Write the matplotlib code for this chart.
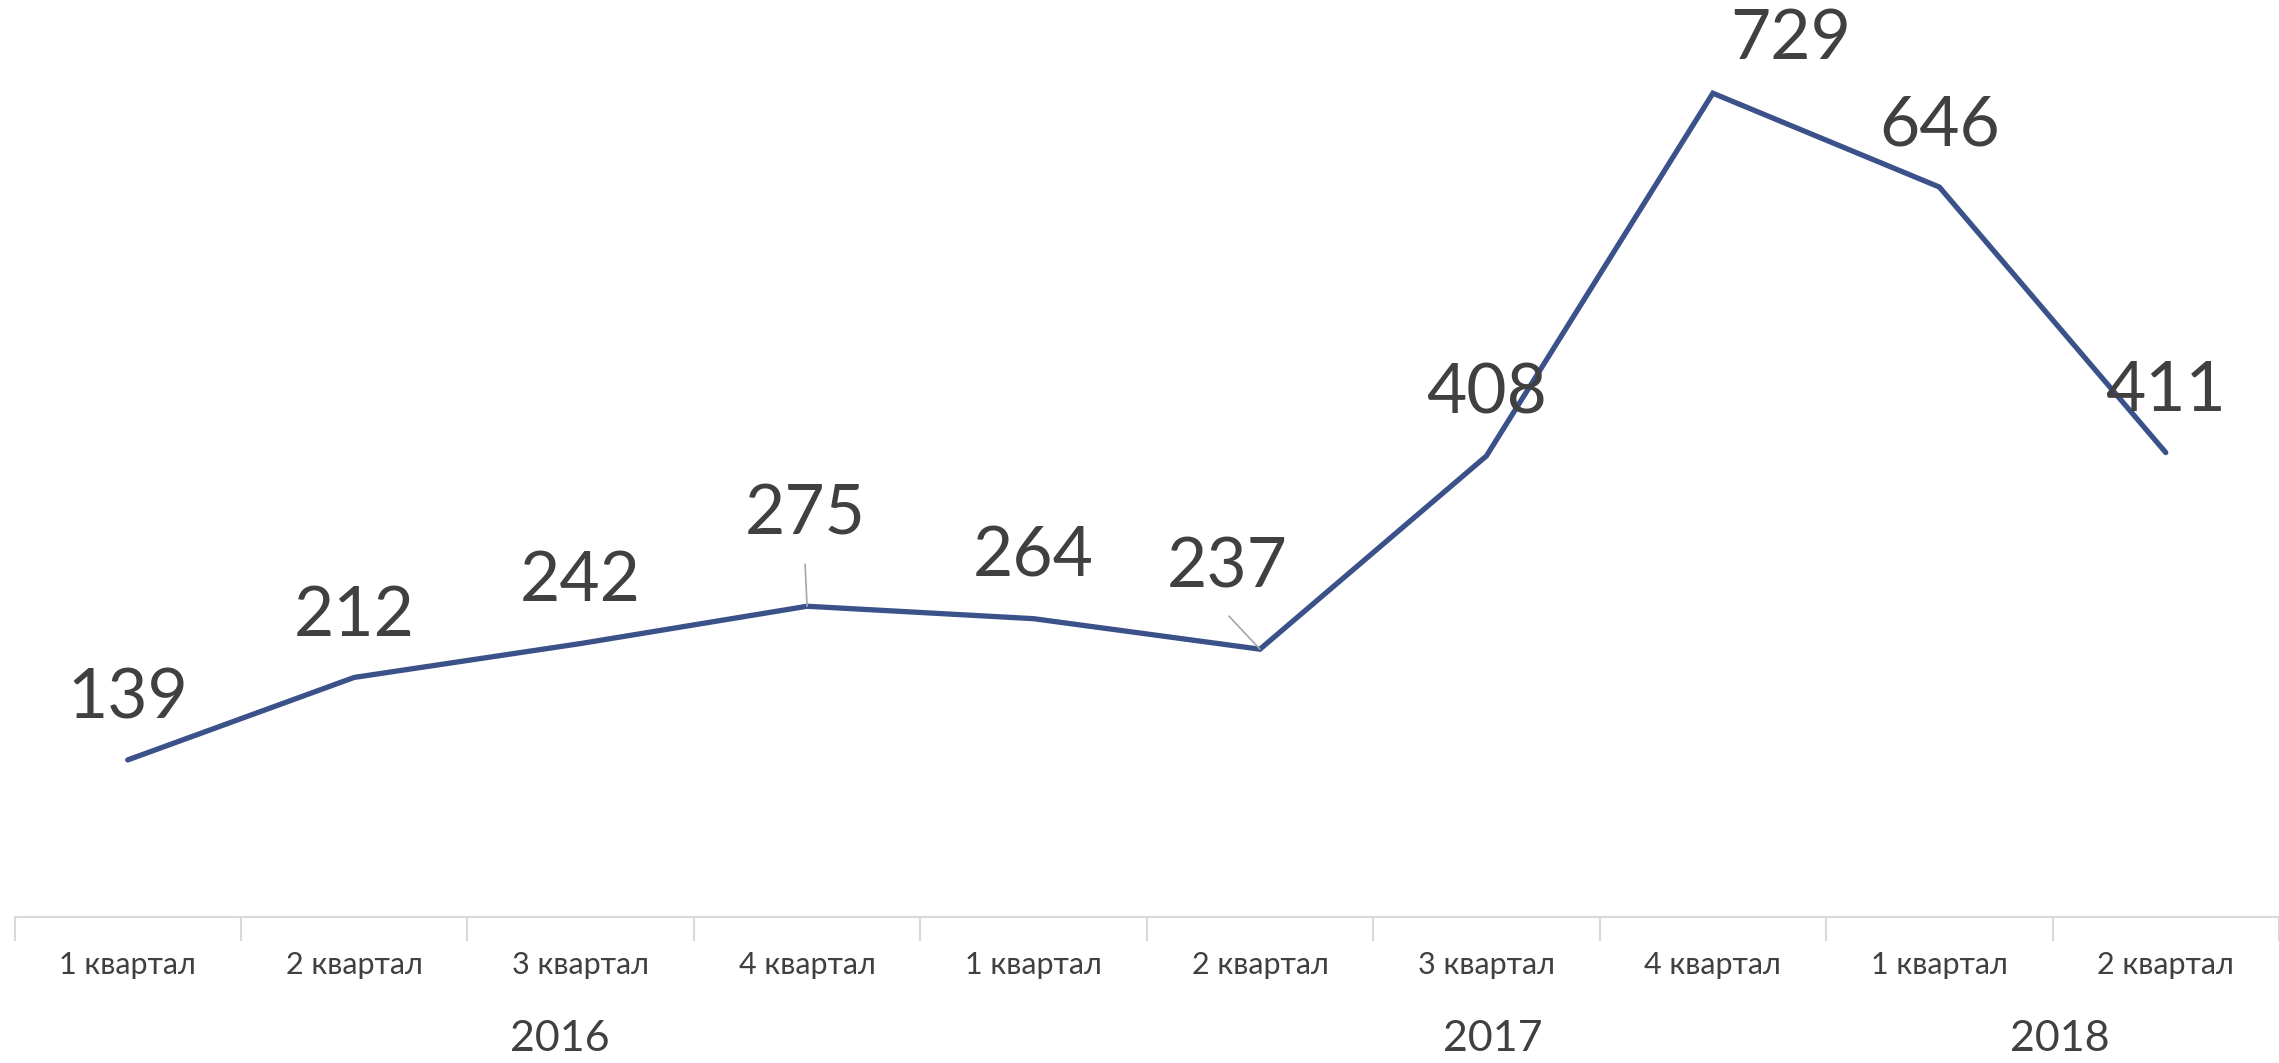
import numpy as np
import matplotlib
matplotlib.use('Agg')
import matplotlib.pyplot as plt

plt.rcParams['font.family'] = ['Lato', 'DejaVu Sans']

# data
quarters = ['1 квартал', '2 квартал', '3 квартал', '4 квартал', '1 квартал',
            '2 квартал', '3 квартал', '4 квартал', '1 квартал', '2 квартал']
values = [139, 212, 242, 275, 264, 237, 408, 729, 646, 411]
years = ['2016', '2017', '2018']
year_pos = [1.91, 6.03, 8.53]

# label offsets in pixels (dx, dy); leader line start offsets (None = no leader)
label_off = [(0, 61), (0, 61), (0, 62), (-2, 91), (0, 62),
             (-33, 81), (0, 62), (78, 54), (0, 61), (0, 61)]
leader_off = [None, None, None, (-2, 42), None, (-31, 33), None, None, None, None]

line_col = '#3b5189'
text_col = '#404040'

fig = plt.figure(figsize=(22.79, 10.63), dpi=100)
ax = fig.add_axes([14.5/2279, 1 - 917/1063, 1 - 14.5/2279, 917/1063])

x = np.arange(len(values))
ax.plot(x, values, color=line_col, lw=3.8, solid_capstyle='round', solid_joinstyle='miter', zorder=3)

for i, v in enumerate(values):
    dx, dy = label_off[i]
    ax.annotate(str(v), (x[i], v), xytext=(dx, dy), textcoords='offset pixels',
                ha='center', va='center', fontsize=50, color=text_col, zorder=4)
    if leader_off[i] is not None:
        ax.annotate('', (x[i], v), xytext=leader_off[i], textcoords='offset pixels',
                    arrowprops=dict(arrowstyle='-', color='#a6a6a6', lw=1.2, shrinkA=0, shrinkB=0))

ax.set_xlim(-0.5, -0.5 + 2264.5 / 228)
ax.set_ylim(0, 917 / 1.130)

for s in ['top', 'right', 'left']:
    ax.spines[s].set_visible(False)
ax.spines['bottom'].set_color('#d9d9d9')
ax.spines['bottom'].set_linewidth(1.5)
ax.set_yticks([])

ax.set_xticks(np.arange(len(values) + 1) - 0.5)
ax.set_xticklabels([])
ax.tick_params(axis='x', length=17, width=1.5, color='#d9d9d9')

trans = ax.get_xaxis_transform()
for i, q in enumerate(quarters):
    ax.text(x[i], -48 / 917, q, transform=trans, ha='center', va='center',
            fontsize=22, color=text_col, clip_on=False)
for y, p in zip(years, year_pos):
    ax.text(p, -122 / 917, y, transform=trans, ha='center', va='center',
            fontsize=31, color=text_col, clip_on=False)

fig.savefig('out.png', dpi=100)
